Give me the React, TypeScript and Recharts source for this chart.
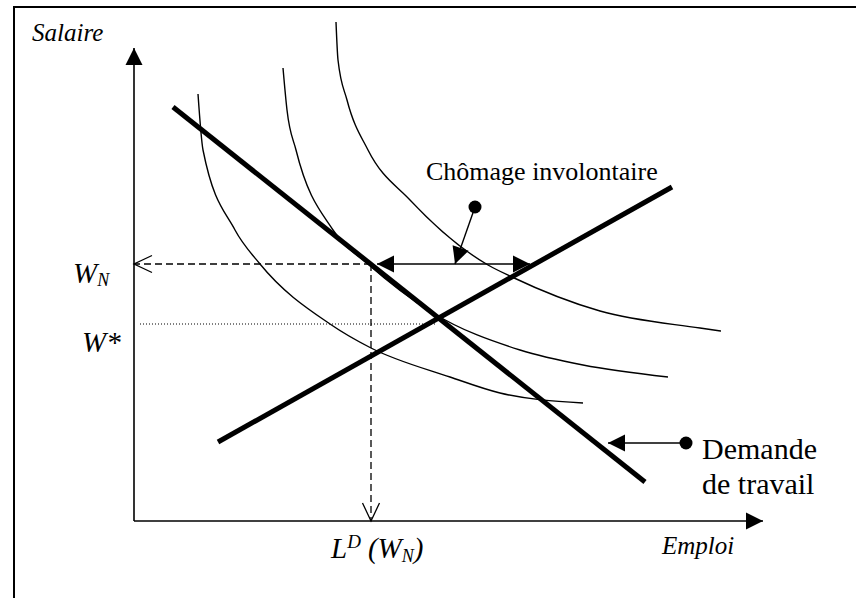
import { ComposedChart, Line, ReferenceDot, Scatter, XAxis, YAxis } from 'recharts'

document.body.style.margin = '0'

// diagram units: employment on x, wage on y (origin = axes corner)
const demand = [
  { x: 7.8, y: 82.8 },
  { x: 102.2, y: 7.8 },
]
const supply = [
  { x: 16.8, y: 15.8 },
  { x: 107.6, y: 66.8 },
]

// iso-utility curves
const curve1 = [
  { x: 12.8, y: 85.4 },
  { x: 13.8, y: 74.2 },
  { x: 20.2, y: 58.2 },
  { x: 25.2, y: 51.4 },
  { x: 39.2, y: 39.4 },
  { x: 47.4, y: 34.6 },
  { x: 63.2, y: 28.8 },
  { x: 73.2, y: 25.6 },
  { x: 89.8, y: 23.6 },
]
const curve2 = [
  { x: 29.8, y: 90.6 },
  { x: 30.6, y: 82.2 },
  { x: 32.4, y: 74.2 },
  { x: 39.8, y: 58.2 },
  { x: 46.8, y: 51.4 },
  { x: 59.8, y: 41.6 },
  { x: 77.2, y: 34.2 },
  { x: 89.8, y: 31.2 },
  { x: 106.8, y: 28.8 },
]
const curve3 = [
  { x: 40.4, y: 99.8 },
  { x: 40.8, y: 92.2 },
  { x: 42.6, y: 84.2 },
  { x: 46.8, y: 74.2 },
  { x: 55.2, y: 64.2 },
  { x: 70.8, y: 51.2 },
  { x: 75.6, y: 48.8 },
  { x: 93.2, y: 42.0 },
  { x: 113.2, y: 38.6 },
  { x: 117.4, y: 38.0 },
]

const wN = 51.4
const wStar = 39.4
const lD = 47.4

const yAxisLine = [
  { x: 0, y: 0 },
  { x: 0, y: 94.6 },
]
const xAxisLine = [
  { x: 0, y: 0 },
  { x: 125.8, y: 0 },
]
const wNDash = [
  { x: lD, y: wN },
  { x: 0, y: wN },
]
const lDDash = [
  { x: lD, y: wN },
  { x: lD, y: 0 },
]
const wStarDots = [
  { x: 1.2, y: wStar },
  { x: 60.6, y: wStar },
]
const unemployment = [
  { x: 48.6, y: wN },
  { x: 79.2, y: wN },
]
const pointerUnemp = [
  { x: 68.2, y: 62.8 },
  { x: 64.2, y: wN },
]
const pointerDemand = [
  { x: 110.4, y: 15.6 },
  { x: 94.8, y: 15.6 },
]

const labels = [
  { x: -20.4, y: 96.0, id: 'salaire' },
  { x: 105.6, y: -6.6, id: 'emploi' },
  { x: -12.2, y: 47.6, id: 'wn' },
  { x: -10.4, y: 33.8, id: 'wstar' },
  { x: 39.4, y: -7.4, id: 'ld' },
  { x: 58.4, y: 68.2, id: 'chomage' },
  { x: 113.6, y: 12.4, id: 'demande' },
  { x: 113.6, y: 5.4, id: 'travail' },
]

const serif = '"Liberation Serif", "Times New Roman", serif'

function LabelShape(props: any) {
  const { cx, cy, payload } = props
  const base = { x: cx, y: cy, fontFamily: serif, fill: '#000' }
  switch (payload.id) {
    case 'salaire':
      return <text {...base} fontSize={25} fontStyle="italic">Salaire</text>
    case 'emploi':
      return <text {...base} fontSize={25} fontStyle="italic">Emploi</text>
    case 'wn':
      return (
        <text {...base} fontSize={29} fontStyle="italic">
          W<tspan fontSize={18} dy={3}>N</tspan>
        </text>
      )
    case 'wstar':
      return <text {...base} fontSize={29} fontStyle="italic">W*</text>
    case 'ld':
      return (
        <text {...base} fontSize={29} fontStyle="italic">
          L<tspan fontSize={19} dy={-10}>D</tspan>
          <tspan dy={10} dx={7}>(W</tspan>
          <tspan fontSize={18} dy={4}>N</tspan>
          <tspan dy={-4}>)</tspan>
        </text>
      )
    case 'chomage':
      return <text {...base} fontSize={26}>Chômage involontaire</text>
    case 'demande':
      return <text {...base} fontSize={30}>Demande</text>
    case 'travail':
      return <text {...base} fontSize={30}>de travail</text>
    default:
      return null
  }
}

const thin = { stroke: '#000', dot: false, activeDot: false, isAnimationActive: false, dataKey: 'y' } as const

export default function App() {
  return (
    <div style={{ position: 'relative', width: 856, height: 598, background: '#fff' }}>
      <div
        style={{
          position: 'absolute',
          left: 13,
          top: 6,
          right: 0,
          bottom: 0,
          borderLeft: '2px solid #000',
          borderTop: '2px solid #000',
        }}
      />
      <div style={{ position: 'absolute', left: 0, top: 0 }}>
        <ComposedChart width={856} height={598} margin={{ top: 0, right: 0, bottom: 0, left: 0 }}>
          <defs>
            <marker id="tri" markerUnits="userSpaceOnUse" markerWidth={18} markerHeight={17} refX={17} refY={8.5} orient="auto-start-reverse" overflow="visible">
              <path d="M0,0 L17,8.5 L0,17 Z" fill="#000" />
            </marker>
            <marker id="chev" markerUnits="userSpaceOnUse" markerWidth={20} markerHeight={18} refX={18} refY={8.5} orient="auto-start-reverse" overflow="visible">
              <path d="M0,0 L18,8.5 L0,17" fill="none" stroke="#000" strokeWidth={1.3} />
            </marker>
          </defs>
          <XAxis type="number" dataKey="x" domain={[-26.8, 144.4]} hide allowDataOverflow />
          <YAxis type="number" dataKey="y" domain={[-15.4, 104.2]} hide allowDataOverflow />

          <Line {...thin} data={curve1} type="monotone" strokeWidth={1.4} />
          <Line {...thin} data={curve2} type="monotone" strokeWidth={1.4} />
          <Line {...thin} data={curve3} type="monotone" strokeWidth={1.4} />

          <Line {...thin} data={wStarDots} type="linear" strokeWidth={1} strokeDasharray="1 2" />
          <Line {...thin} data={wNDash} type="linear" strokeWidth={1.3} strokeDasharray="7 4" markerEnd="url(#chev)" />
          <Line {...thin} data={lDDash} type="linear" strokeWidth={1.3} strokeDasharray="7 4" markerEnd="url(#chev)" />

          <Line {...thin} data={yAxisLine} type="linear" strokeWidth={1.6} markerEnd="url(#tri)" />
          <Line {...thin} data={xAxisLine} type="linear" strokeWidth={1.6} markerEnd="url(#tri)" />

          <Line {...thin} data={demand} type="linear" strokeWidth={5} />
          <Line {...thin} data={supply} type="linear" strokeWidth={5} />

          <Line {...thin} data={unemployment} type="linear" strokeWidth={1.4} markerStart="url(#tri)" markerEnd="url(#tri)" />
          <Line {...thin} data={pointerUnemp} type="linear" strokeWidth={1.4} markerEnd="url(#tri)" />
          <Line {...thin} data={pointerDemand} type="linear" strokeWidth={1.4} markerEnd="url(#tri)" />

          <ReferenceDot x={pointerUnemp[0].x} y={pointerUnemp[0].y} r={6.5} fill="#000" stroke="none" />
          <ReferenceDot x={pointerDemand[0].x} y={pointerDemand[0].y} r={6.5} fill="#000" stroke="none" />

          <Scatter data={labels} shape={LabelShape} isAnimationActive={false} />
        </ComposedChart>
      </div>
    </div>
  )
}
